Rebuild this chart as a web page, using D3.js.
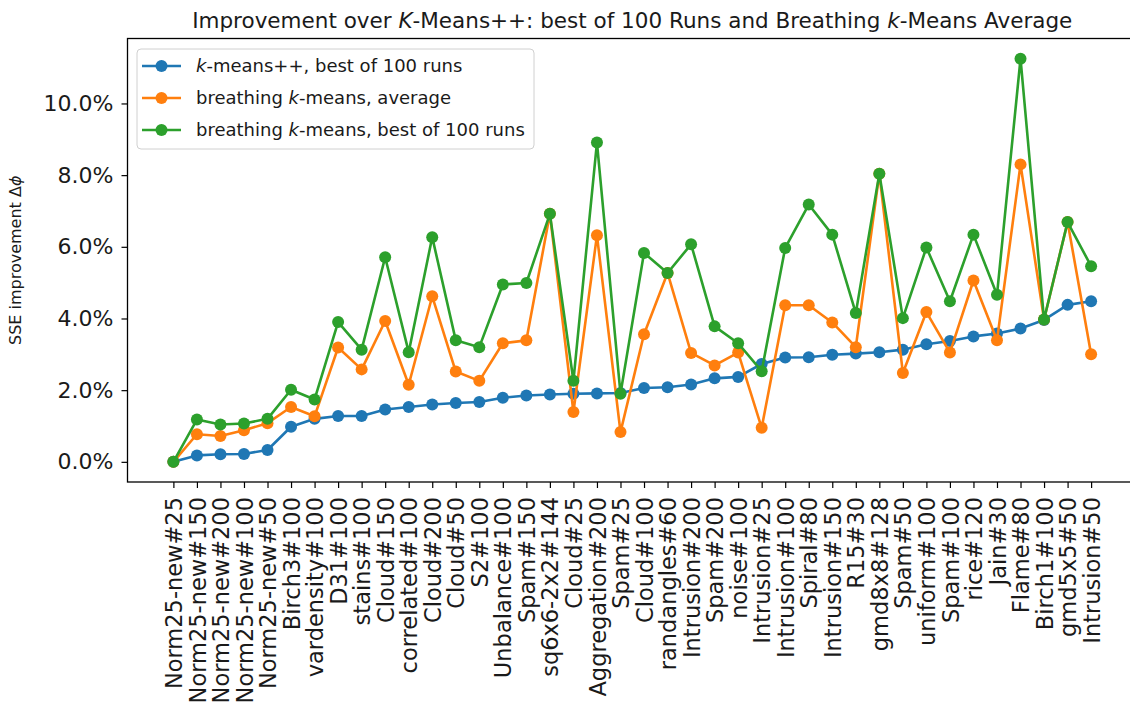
<!DOCTYPE html>
<html>
<head>
<meta charset="utf-8">
<script src="https://cdn.jsdelivr.net/npm/d3@7"></script>
<style>
  body { margin: 0; background: white; }
  text { font-family: 'DejaVu Sans', sans-serif; fill: #1a1a1a; }
</style>
</head>
<body>
<div id="vis"></div>
<script>
// datasets on the x axis, sorted by k-means++ improvement
const datasets = [
  'Norm25-new#25', 'Norm25-new#150', 'Norm25-new#200', 'Norm25-new#100', 'Norm25-new#50',
  'Birch3#100', 'vardensity#100', 'D31#100', 'stains#100', 'Cloud#150',
  'correlated#100', 'Cloud#200', 'Cloud#50', 'S2#100', 'Unbalance#100',
  'Spam#150', 'sq6x6-2x2#144', 'Cloud#25', 'Aggregation#200', 'Spam#25',
  'Cloud#100', 'randangles#60', 'Intrusion#200', 'Spam#200', 'noise#100',
  'Intrusion#25', 'Intrusion#100', 'Spiral#80', 'Intrusion#150', 'R15#30',
  'gmd8x8#128', 'Spam#50', 'uniform#100', 'Spam#100', 'rice#120',
  'Jain#30', 'Flame#80', 'Birch1#100', 'gmd5x5#50', 'Intrusion#50'
];

// SSE improvement in percent
const kmppBest = [
  0.0, 0.18, 0.21, 0.22, 0.33, 0.98, 1.20, 1.28, 1.28, 1.46,
  1.53, 1.60, 1.64, 1.67, 1.79, 1.85, 1.88, 1.90, 1.91, 1.92,
  2.06, 2.08, 2.16, 2.33, 2.37, 2.73, 2.91, 2.92, 2.99, 3.02,
  3.06, 3.13, 3.28, 3.37, 3.50, 3.58, 3.72, 3.96, 4.38, 4.48
];
const bkmAverage = [
  0.0, 0.77, 0.72, 0.88, 1.08, 1.53, 1.27, 3.19, 2.58, 3.93,
  2.15, 4.62, 2.52, 2.26, 3.31, 3.39, 6.92, 1.39, 6.32, 0.83,
  3.56, 5.27, 3.04, 2.69, 3.05, 0.95, 4.37, 4.37, 3.89, 3.20,
  8.04, 2.48, 4.18, 3.05, 5.06, 3.39, 8.30, 3.97, 6.69, 3.00
];
const bkmBest = [
  0.0, 1.18, 1.04, 1.07, 1.20, 2.01, 1.74, 3.90, 3.13, 5.71,
  3.06, 6.27, 3.39, 3.20, 4.95, 4.99, 6.92, 2.26, 8.91, 1.90,
  5.83, 5.27, 6.07, 3.78, 3.31, 2.53, 5.97, 7.18, 6.34, 4.15,
  8.04, 4.01, 5.98, 4.48, 6.34, 4.66, 11.25, 3.97, 6.69, 5.46
];
const yTicks = [0, 2, 4, 6, 8, 10];

const series = [
  { values: kmppBest, color: '#1f77b4', label: [['k', true], ['-means++, best of 100 runs', false]] },
  { values: bkmAverage, color: '#ff7f0e', label: [['breathing ', false], ['k', true], ['-means, average', false]] },
  { values: bkmBest, color: '#2ca02c', label: [['breathing ', false], ['k', true], ['-means, best of 100 runs', false]] }
];

const W = 1130, H = 706;
const plot = { left: 127.5, right: 1137, top: 38.5, bottom: 482 };

let svg = d3.select('#vis').append('svg')
  .attr('width', W)
  .attr('height', H)
  .style('background-color', 'white');

// matplotlib style 5% margins
const n = datasets.length;
const xPad = (n - 1) * 0.05;
let x = d3.scaleLinear()
  .domain([-xPad, n - 1 + xPad])
  .range([plot.left, plot.right]);

const allVals = kmppBest.concat(bkmAverage, bkmBest);
const yMin = d3.min(allVals), yMax = d3.max(allVals);
const yPad = (yMax - yMin) * 0.05;
let y = d3.scaleLinear()
  .domain([yMin - yPad, yMax + yPad])
  .range([plot.bottom, plot.top]);

// axes
let xAxis = svg.append('g')
  .attr('transform', `translate(0,${plot.bottom})`)
  .call(d3.axisBottom(x).tickValues(d3.range(n)).tickSize(6).tickFormat(''));
xAxis.select('.domain').remove();
xAxis.selectAll('.tick line').attr('stroke', '#000').attr('stroke-width', 1.2);
xAxis.selectAll('.tick').append('text')
  .attr('transform', 'rotate(-90)')
  .attr('x', -15)
  .attr('y', 0)
  .attr('dy', '0.36em')
  .attr('text-anchor', 'end')
  .style('font-size', '22.5px')
  .text((d) => datasets[d]);

let yAxis = svg.append('g')
  .attr('transform', `translate(${plot.left},0)`)
  .call(d3.axisLeft(y).tickValues(yTicks).tickSize(6).tickPadding(8).tickFormat((d) => d.toFixed(1) + '%'));
yAxis.select('.domain').remove();
yAxis.selectAll('.tick line').attr('stroke', '#000').attr('stroke-width', 1.2);
yAxis.selectAll('.tick text')
  .style('font-family', "'DejaVu Sans', sans-serif")
  .style('font-size', '22px')
  .attr('fill', '#1a1a1a');

// frame
svg.append('rect')
  .attr('x', plot.left)
  .attr('y', plot.top)
  .attr('width', plot.right - plot.left)
  .attr('height', plot.bottom - plot.top)
  .attr('fill', 'none')
  .attr('stroke', '#000')
  .attr('stroke-width', 1.3);

// lines and markers
let line = d3.line()
  .x((d, i) => x(i))
  .y((d) => y(d));

series.forEach((s) => {
  let g = svg.append('g');
  g.append('path')
    .datum(s.values)
    .attr('d', line)
    .attr('fill', 'none')
    .attr('stroke', s.color)
    .attr('stroke-width', 2.6)
    .attr('stroke-linejoin', 'round');
  g.selectAll('circle')
    .data(s.values)
    .join('circle')
    .attr('cx', (d, i) => x(i))
    .attr('cy', (d) => y(d))
    .attr('r', 6)
    .attr('fill', s.color);
});

// title
let title = svg.append('text')
  .attr('x', (plot.left + plot.right) / 2)
  .attr('y', 28)
  .attr('text-anchor', 'middle')
  .style('font-size', '21.5px');
[['Improvement over ', false], ['K', true], ['-Means++: best of 100 Runs and Breathing ', false], ['k', true], ['-Means Average', false]]
  .forEach(([t, it]) => title.append('tspan').style('font-style', it ? 'italic' : 'normal').text(t));

// y label
let ylab = svg.append('text')
  .attr('transform', `translate(21,${(plot.top + plot.bottom) / 2}) rotate(-90)`)
  .attr('text-anchor', 'middle')
  .style('font-size', '16px');
ylab.append('tspan').text('SSE improvement Δ');
ylab.append('tspan').style('font-style', 'italic').text('ϕ');

// legend
let legend = svg.append('g');
legend.append('rect')
  .attr('x', 137)
  .attr('y', 49)
  .attr('width', 397)
  .attr('height', 100)
  .attr('rx', 4)
  .attr('fill', 'white')
  .attr('fill-opacity', 0.8)
  .attr('stroke', '#d0d0d0');

series.forEach((s, i) => {
  const ly = 66 + i * 32;
  legend.append('line')
    .attr('x1', 142).attr('x2', 181)
    .attr('y1', ly).attr('y2', ly)
    .attr('stroke', s.color)
    .attr('stroke-width', 2.6);
  legend.append('circle')
    .attr('cx', 161.5).attr('cy', ly)
    .attr('r', 6)
    .attr('fill', s.color);
  let t = legend.append('text')
    .attr('x', 196)
    .attr('y', ly)
    .attr('dy', '0.35em')
    .style('font-size', '18px');
  s.label.forEach(([txt, it]) => t.append('tspan').style('font-style', it ? 'italic' : 'normal').text(txt));
});
</script>
</body>
</html>
